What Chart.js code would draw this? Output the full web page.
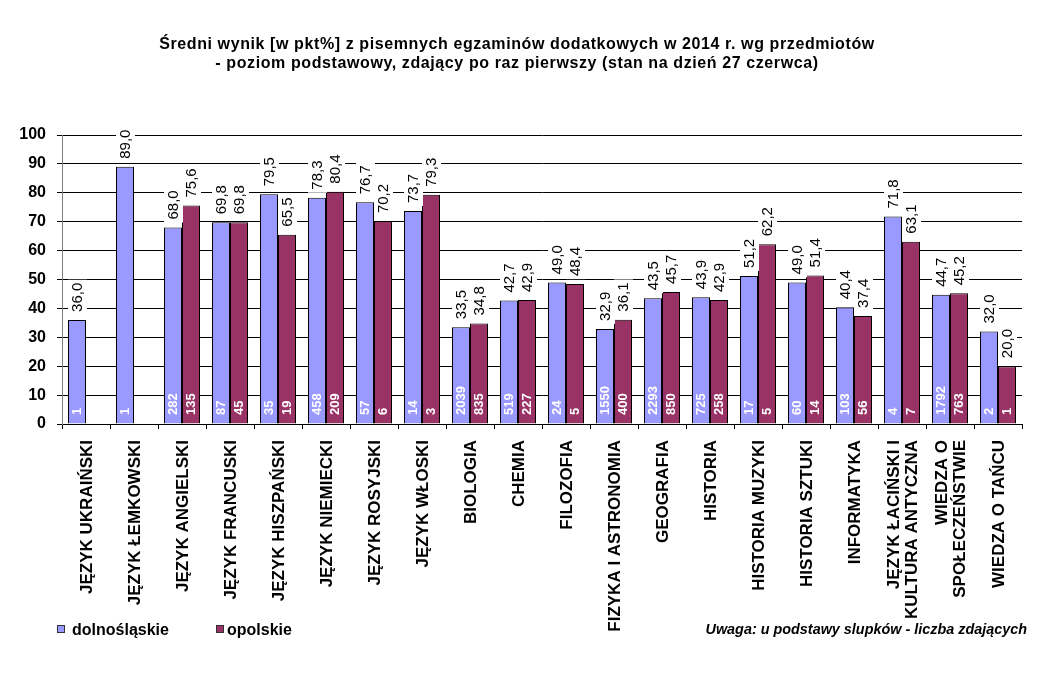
<!DOCTYPE html>
<html>
<head>
<meta charset="utf-8">
<script src="https://cdn.jsdelivr.net/npm/chart.js@4.4.1/dist/chart.umd.min.js"></script>
<style>
html,body{margin:0;padding:0;background:#fff;}
#wrap{position:relative;width:1053px;height:692px;overflow:hidden;font-family:"Liberation Sans",Arial,sans-serif;color:#000;}
#c{position:absolute;left:0;top:0;}
#title{position:absolute;left:0;top:34px;width:1034px;text-align:center;font-weight:bold;font-size:16px;line-height:19px;letter-spacing:0.6px;white-space:nowrap;}
.lg{position:absolute;top:621px;font-weight:bold;font-size:16px;line-height:18px;white-space:nowrap;}
.sw{position:absolute;width:6px;height:6px;border:1px solid #333;top:625px;}
#note{position:absolute;right:26px;top:621px;font-weight:bold;font-style:italic;font-size:14.4px;line-height:16px;white-space:nowrap;}
</style>
</head>
<body>
<div id="wrap">
<canvas id="c" width="1053" height="692"></canvas>
<div id="title">Średni wynik [w pkt%] z pisemnych egzaminów dodatkowych w 2014 r. wg przedmiotów<br>- poziom podstawowy, zdający po raz pierwszy (stan na dzień 27 czerwca)</div>
<div class="sw" style="left:57px;background:#9999FF"></div>
<div class="lg" id="lg1" style="left:72px"></div>
<div class="sw" style="left:216px;background:#993366"></div>
<div class="lg" id="lg2" style="left:227px"></div>
<div id="note">Uwaga: u podstawy slupków - liczba zdających</div>
</div>
<script>
// ---- data ----
const categories = [
  ["JĘZYK UKRAIŃSKI"], ["JĘZYK ŁEMKOWSKI"], ["JĘZYK ANGIELSKI"], ["JĘZYK FRANCUSKI"],
  ["JĘZYK HISZPAŃSKI"], ["JĘZYK NIEMIECKI"], ["JĘZYK ROSYJSKI"], ["JĘZYK WŁOSKI"],
  ["BIOLOGIA"], ["CHEMIA"], ["FILOZOFIA"], ["FIZYKA I ASTRONOMIA"], ["GEOGRAFIA"],
  ["HISTORIA"], ["HISTORIA MUZYKI"], ["HISTORIA SZTUKI"], ["INFORMATYKA"],
  ["JĘZYK ŁACIŃSKI I", "KULTURA ANTYCZNA"], ["WIEDZA O", "SPOŁECZEŃSTWIE"], ["WIEDZA O TAŃCU"]
];
const seriesNames = ["dolnośląskie", "opolskie"];
const dolnoslaskie = [36.0, 89.0, 68.0, 69.8, 79.5, 78.3, 76.7, 73.7, 33.5, 42.7, 49.0, 32.9, 43.5, 43.9, 51.2, 49.0, 40.4, 71.8, 44.7, 32.0];
const opolskie     = [null, null, 75.6, 69.8, 65.5, 80.4, 70.2, 79.3, 34.8, 42.9, 48.4, 36.1, 45.7, 42.9, 62.2, 51.4, 37.4, 63.1, 45.2, 20.0];
const countsDolnoslaskie = [1, 1, 282, 87, 35, 458, 57, 14, 2039, 519, 24, 1550, 2293, 725, 17, 60, 103, 4, 1792, 2];
const countsOpolskie     = [null, null, 135, 45, 19, 209, 6, 3, 835, 227, 5, 400, 850, 258, 5, 14, 56, 7, 763, 1];
const yMin = 0, yMax = 100, yStep = 10;

document.getElementById('lg1').textContent = seriesNames[0];
document.getElementById('lg2').textContent = seriesNames[1];

const FONT = '"Liberation Sans", Arial, sans-serif';
const counts = [countsDolnoslaskie, countsOpolskie];

function fmt(v) { return v.toFixed(1).replace('.', ','); }

const labelPlugin = {
  id: 'labelPlugin',
  afterDatasetsDraw(chart) {
    const ctx = chart.ctx;
    const xs = chart.scales.x;
    // counts inside bars
    ctx.save();
    ctx.font = 'bold 13px ' + FONT;
    ctx.fillStyle = '#ffffff';
    ctx.textBaseline = 'middle';
    ctx.textAlign = 'left';
    chart.data.datasets.forEach((ds, di) => {
      const meta = chart.getDatasetMeta(di);
      meta.data.forEach((el, i) => {
        const c = counts[di][i];
        if (ds.data[i] == null || c == null) return;
        ctx.save();
        ctx.translate(el.x + 0.5, xs.top - 9);
        ctx.rotate(-Math.PI / 2);
        ctx.fillText(String(c), 0, 0);
        ctx.restore();
      });
    });
    ctx.restore();
    // value labels with white boxes
    ctx.save();
    ctx.font = '15px ' + FONT;
    ctx.textBaseline = 'middle';
    ctx.textAlign = 'left';
    chart.data.datasets.forEach((ds, di) => {
      const meta = chart.getDatasetMeta(di);
      meta.data.forEach((el, i) => {
        const v = ds.data[i];
        if (v == null) return;
        const txt = fmt(v);
        const w = ctx.measureText(txt).width;
        const start = el.y - 8;
        ctx.fillStyle = '#ffffff';
        ctx.fillRect(el.x - 9, start - w - 3, 19, w + 6);
        ctx.fillStyle = '#000000';
        ctx.save();
        ctx.translate(el.x + 1, start);
        ctx.rotate(-Math.PI / 2);
        ctx.fillText(txt, 0, 0);
        ctx.restore();
      });
    });
    ctx.restore();
    // category labels
    ctx.save();
    ctx.font = 'bold 17px ' + FONT;
    ctx.fillStyle = '#000000';
    ctx.textBaseline = 'middle';
    ctx.textAlign = 'right';
    const lineH = 18;
    categories.forEach((lines, i) => {
      const cx = xs.getPixelForValue(i) + 1;
      const n = lines.length;
      lines.forEach((ln, k) => {
        const x = cx + (k - (n - 1) / 2) * lineH;
        ctx.save();
        ctx.translate(x, xs.top + 16);
        ctx.rotate(-Math.PI / 2);
        ctx.fillText(ln, 0, 0);
        ctx.restore();
      });
    });
    ctx.restore();
  }
};

new Chart(document.getElementById('c'), {
  type: 'bar',
  data: {
    labels: categories.map(c => c.join(' ')),
    datasets: [
      { label: seriesNames[0], data: dolnoslaskie, backgroundColor: '#9999FF', borderColor: '#000000', borderWidth: 1, borderSkipped: 'start' },
      { label: seriesNames[1], data: opolskie, backgroundColor: '#993366', borderColor: '#000000', borderWidth: 1, borderSkipped: 'start' }
    ]
  },
  options: {
    responsive: false,
    animation: false,
    devicePixelRatio: 1,
    layout: { padding: { top: 135, left: 0, right: 31, bottom: 0 } },
    datasets: { bar: { categoryPercentage: 0.75, barPercentage: 1.0 } },
    plugins: { legend: { display: false }, title: { display: false }, tooltip: { enabled: false } },
    scales: {
      x: {
        offset: true,
        grid: { display: true, drawOnChartArea: false, drawTicks: true, tickLength: 5, color: '#000000', offset: true },
        border: { display: true, color: '#000000', width: 1 },
        ticks: { display: false },
        afterFit(scale) { scale.height = 268; }
      },
      y: {
        min: yMin, max: yMax,
        ticks: { stepSize: yStep, color: '#000000', font: { family: FONT, size: 16, weight: 'bold' }, padding: 11 },
        grid: { color: '#000000', lineWidth: 1, tickLength: 5, drawTicks: true },
        border: { display: true, color: '#808080', width: 1 },
        afterFit(scale) { scale.width = 62; }
      }
    }
  },
  plugins: [labelPlugin]
});
</script>
</body>
</html>
